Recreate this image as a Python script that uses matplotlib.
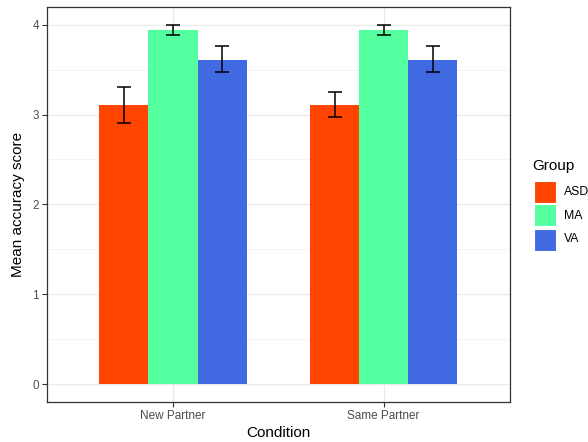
import matplotlib
matplotlib.use("Agg")
import matplotlib.pyplot as plt
import numpy as np
from matplotlib.patches import Rectangle

plt.rcParams["font.family"] = ["Liberation Sans", "DejaVu Sans"]

conditions = ["New Partner", "Same Partner"]
groups = ["ASD", "MA", "VA"]
colors = ["#FF4500", "#54FF9F", "#4169E1"]
means = {
  "ASD": [3.11, 3.11],
  "MA": [3.945, 3.945],
  "VA": [3.61, 3.61],
}
err_low = {
  "ASD": [2.91, 2.97],
  "MA": [3.89, 3.89],
  "VA": [3.47, 3.47],
}
err_high = {
  "ASD": [3.31, 3.25],
  "MA": [4.00, 4.00],
  "VA": [3.757, 3.757],
}

W, H = 588, 442
fig = plt.figure(figsize=(W / 100, H / 100), dpi=100)
ax = fig.add_axes([46.7 / W, 1 - 402 / H, (510 - 46.7) / W, (402 - 6.7) / H])

x = np.arange(1, len(conditions) + 1)
bar_w = 0.7 / len(groups)
for i, g in enumerate(groups):
  pos = x - 0.35 + bar_w * (i + 0.5)
  ax.bar(pos, means[g], width=bar_w, color=colors[i], zorder=2)
  lo = np.array(means[g]) - np.array(err_low[g])
  hi = np.array(err_high[g]) - np.array(means[g])
  ax.errorbar(pos, means[g], yerr=[lo, hi], fmt="none", ecolor="black",
              elinewidth=1.1, capsize=5.3, capthick=1.1, zorder=3)

ax.set_xlim(0.4, 2.6)
ax.set_ylim(-0.2, 4.2)
ax.set_xticks(x)
ax.set_xticklabels(conditions)
ax.set_yticks([0, 1, 2, 3, 4])
ax.set_yticks([0.5, 1.5, 2.5, 3.5], minor=True)
ax.tick_params(axis="y", which="minor", length=0)
ax.grid(True, which="major", color="#EBEBEB", linewidth=1.0, zorder=0)
ax.grid(True, which="minor", axis="y", color="#F2F2F2", linewidth=0.6, zorder=0)
ax.set_axisbelow(True)
ax.tick_params(axis="both", which="major", length=3.5, width=0.8, color="#333333",
               labelcolor="#4D4D4D", labelsize=8.5, pad=2)
for s in ax.spines.values():
  s.set_color("#333333")
  s.set_linewidth(0.9)

ax.set_xlabel("Condition", fontsize=11, labelpad=3)
ax.set_ylabel("Mean accuracy score", fontsize=11, labelpad=5)

# legend drawn by hand to the right of the panel
fig.text(532 / W, 1 - 166 / H, "Group", fontsize=11, va="center", ha="left")
key_tops = [180.7, 204.5, 228.5]
for i, g in enumerate(groups):
  top = key_tops[i]
  fig.patches.append(Rectangle((534.3 / W, 1 - (top + 22) / H), 21.7 / W, 22 / H,
                               transform=fig.transFigure, facecolor=colors[i],
                               edgecolor="white", linewidth=0.8))
  fig.text(564 / W, 1 - (top + 11) / H, g, fontsize=8.8, va="center", ha="left")

fig.savefig("out.png", dpi=100)
